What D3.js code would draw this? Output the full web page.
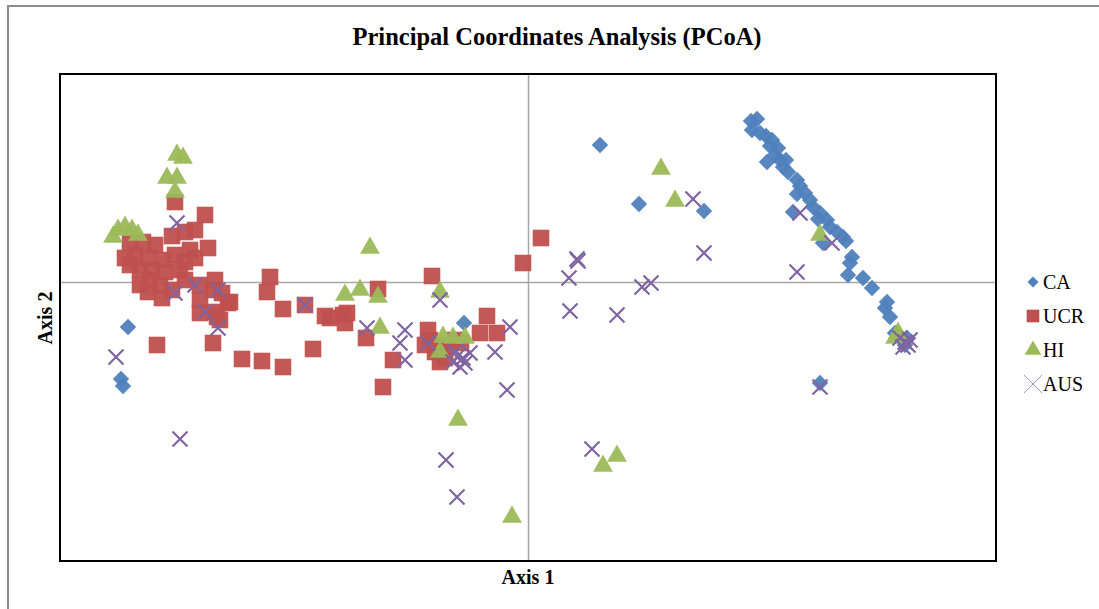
<!DOCTYPE html>
<html>
<head>
<meta charset="utf-8">
<script src="https://cdn.jsdelivr.net/npm/d3@7"></script>
<style>
  body { margin: 0; background: #fff; }
  svg { display: block; font-family: "Liberation Serif", "Times New Roman", serif; }
</style>
</head>
<body>
<script>
// PCoA coordinates, one [axis1, axis2] pair per sample
var caPoints = [
  [0.072, 0.137], [0.111, 0.078], [0.176, 0.071], [-0.064, -0.041], [-0.400, -0.045],
  [-0.407, -0.097], [-0.405, -0.104], [0.292, -0.101],
  [0.223, 0.161], [0.229, 0.163], [0.224, 0.152], [0.232, 0.149], [0.238, 0.146],
  [0.244, 0.142], [0.242, 0.136], [0.250, 0.134], [0.247, 0.127], [0.239, 0.120],
  [0.252, 0.122], [0.258, 0.122], [0.255, 0.115], [0.260, 0.110], [0.269, 0.102],
  [0.272, 0.096], [0.269, 0.088], [0.277, 0.089], [0.282, 0.082], [0.265, 0.070],
  [0.285, 0.075], [0.292, 0.069], [0.290, 0.063], [0.299, 0.062], [0.302, 0.055],
  [0.309, 0.050], [0.315, 0.045], [0.295, 0.039], [0.318, 0.041], [0.324, 0.025],
  [0.322, 0.019], [0.320, 0.007], [0.335, 0.004], [0.344, -0.006], [0.359, -0.020],
  [0.357, -0.026], [0.362, -0.035], [0.367, -0.051], [0.372, -0.054], [0.379, -0.056],
  [0.377, -0.063]
];
var ucrPoints = [
  [-0.353, 0.080], [-0.323, 0.067], [-0.333, 0.052], [-0.343, 0.050], [-0.356, 0.046],
  [-0.320, 0.034], [-0.338, 0.032], [-0.373, 0.037], [-0.385, 0.040], [-0.398, 0.039],
  [-0.403, 0.024], [-0.393, 0.027], [-0.380, 0.024], [-0.365, 0.022], [-0.353, 0.027],
  [-0.343, 0.020], [-0.333, 0.024], [-0.388, 0.012], [-0.376, 0.012], [-0.363, 0.010],
  [-0.348, 0.012], [-0.388, -0.003], [-0.380, -0.010], [-0.366, -0.016], [-0.356, -0.008],
  [-0.343, 0.002], [-0.328, -0.003], [-0.313, 0.002], [-0.315, -0.008], [-0.306, -0.011],
  [-0.298, -0.020], [-0.328, -0.018], [-0.313, -0.030], [-0.328, -0.031], [-0.308, -0.038],
  [-0.371, -0.063], [-0.315, -0.061], [-0.286, -0.077], [-0.266, -0.079], [-0.245, -0.085],
  [-0.215, -0.067], [-0.258, 0.005], [-0.261, -0.010], [-0.245, -0.027], [-0.223, -0.023],
  [-0.203, -0.034], [-0.198, -0.036], [-0.185, -0.033], [-0.183, -0.041], [-0.300, -0.021],
  [-0.311, -0.035], [-0.162, -0.056], [-0.150, -0.007], [-0.096, 0.006], [-0.135, -0.078],
  [-0.145, -0.105], [-0.100, -0.048], [-0.103, -0.063], [-0.093, -0.070], [-0.088, -0.080],
  [-0.083, -0.076], [-0.073, -0.058], [-0.067, -0.061], [-0.048, -0.051], [-0.041, -0.034],
  [-0.031, -0.051], [-0.088, -0.063], [-0.005, 0.019], [0.013, 0.044], [-0.181, -0.031],
  [-0.378, 0.002], [-0.398, 0.017], [-0.368, -0.003], [-0.098, -0.058], [-0.083, -0.068]
];
var hiPoints = [
  [-0.351, 0.127], [-0.345, 0.124], [-0.361, 0.104], [-0.351, 0.104], [-0.353, 0.090],
  [-0.410, 0.052], [-0.403, 0.055], [-0.396, 0.052], [-0.390, 0.047], [-0.415, 0.045],
  [-0.158, 0.034], [0.133, 0.113], [0.147, 0.081], [0.292, 0.047], [-0.183, -0.013],
  [-0.168, -0.008], [-0.150, -0.015], [-0.088, -0.010], [-0.148, -0.046], [-0.085, -0.055],
  [-0.075, -0.056], [-0.063, -0.056], [-0.088, -0.070], [-0.070, -0.138], [0.075, -0.184],
  [0.089, -0.174], [-0.016, -0.235], [0.370, -0.051], [0.367, -0.056]
];
var ausPoints = [
  [-0.412, -0.075], [-0.348, -0.157], [-0.351, 0.059], [-0.333, -0.003], [-0.353, -0.011],
  [-0.310, -0.008], [-0.323, -0.030], [-0.310, -0.046], [-0.223, -0.023], [-0.088, -0.018],
  [-0.161, -0.046], [-0.123, -0.048], [-0.128, -0.061], [-0.123, -0.078], [-0.100, -0.061],
  [-0.071, -0.075], [-0.065, -0.076], [-0.075, -0.080], [-0.068, -0.085], [-0.058, -0.071],
  [-0.033, -0.070], [-0.018, -0.045], [-0.021, -0.108], [-0.082, -0.178], [-0.071, -0.215],
  [0.165, 0.083], [0.176, 0.029], [0.049, 0.023], [0.050, 0.021], [0.041, 0.004],
  [0.114, -0.005], [0.123, -0.001], [0.042, -0.029], [0.089, -0.033], [0.064, -0.167],
  [0.269, 0.010], [0.272, 0.069], [0.304, 0.039], [0.292, -0.105], [0.372, -0.056],
  [0.377, -0.060], [0.380, -0.063], [0.375, -0.065], [0.382, -0.058], [-0.073, -0.070],
  [-0.063, -0.081]
];
var groupNames = ["CA", "UCR", "HI", "AUS"];
var groupColors = ["#4f81bd", "#c0504d", "#9bbb59", "#8064a2"];

var width = 1099;
var height = 609;
var plot = { left: 60, right: 996, top: 74, bottom: 561 };

var xScale = d3.scaleLinear().domain([-0.468, 0.468]).range([plot.left, plot.right]);
var yScale = d3.scaleLinear().domain([-0.279, 0.208]).range([plot.bottom, plot.top]);

var svg = d3.select("body").append("svg")
  .attr("width", width)
  .attr("height", height);

// outer chart border
svg.append("path")
  .attr("d", "M8,612 L8,6 L1102,6")
  .attr("fill", "none")
  .attr("stroke", "#8c8c8c")
  .attr("stroke-width", 2);

svg.append("text")
  .attr("x", 557).attr("y", 45)
  .attr("text-anchor", "middle")
  .attr("font-size", 24.5).attr("font-weight", "bold")
  .text("Principal Coordinates Analysis (PCoA)");

svg.append("clipPath").attr("id", "plotclip")
  .append("rect")
  .attr("x", plot.left).attr("y", plot.top)
  .attr("width", plot.right - plot.left).attr("height", plot.bottom - plot.top);

// axes crossing at zero, no ticks
var axisX = d3.axisBottom(xScale).tickValues([]).tickSizeOuter(0);
var axisY = d3.axisLeft(yScale).tickValues([]).tickSizeOuter(0);
svg.append("g").attr("class", "zero-axis")
  .attr("transform", "translate(0," + yScale(0) + ")").call(axisX);
svg.append("g").attr("class", "zero-axis")
  .attr("transform", "translate(" + xScale(0) + ",0)").call(axisY);
svg.selectAll(".zero-axis path")
  .attr("stroke", "#a6a6a6").attr("stroke-width", 1.5);

var symbolDiamond = d3.symbol().type(d3.symbolSquare).size(135)();
var symbolSquare = d3.symbol().type(d3.symbolSquare).size(275)();
var symbolTriangle = d3.symbol().type(d3.symbolTriangle).size(170)();
var symbolCross = "M-7.5,-7.5L7.5,7.5M-7.5,7.5L7.5,-7.5";

var marks = svg.append("g").attr("clip-path", "url(#plotclip)");

function drawSeries(points, path, color, rotate, stroke) {
  marks.append("g").selectAll("path")
    .data(points)
    .enter()
      .append("path")
      .attr("d", path)
      .attr("transform", function(d) {
        return "translate(" + xScale(d[0]) + "," + yScale(d[1]) + ")" + (rotate ? " rotate(45)" : "");
      })
      .attr("fill", stroke ? "none" : color)
      .attr("stroke", stroke ? color : "none")
      .attr("stroke-width", stroke ? 2.2 : 0)
      .attr("fill-opacity", 0.95);
}

drawSeries(caPoints, symbolDiamond, groupColors[0], true, false);
drawSeries(ucrPoints, symbolSquare, groupColors[1], false, false);
drawSeries(hiPoints, symbolTriangle, groupColors[2], false, false);
drawSeries(ausPoints, symbolCross, groupColors[3], false, true);

// plot frame
svg.append("rect")
  .attr("x", plot.left).attr("y", plot.top)
  .attr("width", plot.right - plot.left).attr("height", plot.bottom - plot.top)
  .attr("fill", "none").attr("stroke", "#000").attr("stroke-width", 2);

svg.append("text")
  .attr("x", 528).attr("y", 584)
  .attr("text-anchor", "middle")
  .attr("font-size", 20).attr("font-weight", "bold")
  .text("Axis 1");

svg.append("text")
  .attr("transform", "translate(52,318) rotate(-90)")
  .attr("text-anchor", "middle")
  .attr("font-size", 20).attr("font-weight", "bold")
  .text("Axis 2");

// legend
var legendPaths = [
  d3.symbol().type(d3.symbolSquare).size(60)(),
  d3.symbol().type(d3.symbolSquare).size(160)(),
  d3.symbol().type(d3.symbolTriangle).size(120)(),
  "M-9,-9L9,9M-9,9L9,-9"
];
var legend = svg.append("g").selectAll("g")
  .data(groupNames)
  .enter()
    .append("g")
    .attr("transform", function(d, i) { return "translate(1033," + (282 + i * 34) + ")"; });

legend.append("path")
  .attr("d", function(d, i) { return legendPaths[i]; })
  .attr("transform", function(d, i) { return i === 0 ? "rotate(45)" : null; })
  .attr("fill", function(d, i) { return i === 3 ? "none" : groupColors[i]; })
  .attr("stroke", function(d, i) { return i === 3 ? "#a892c6" : "none"; })
  .attr("stroke-width", 1);

legend.append("text")
  .attr("x", 10).attr("y", 7)
  .attr("font-size", 20)
  .text(function(d) { return d; });
</script>
</body>
</html>
